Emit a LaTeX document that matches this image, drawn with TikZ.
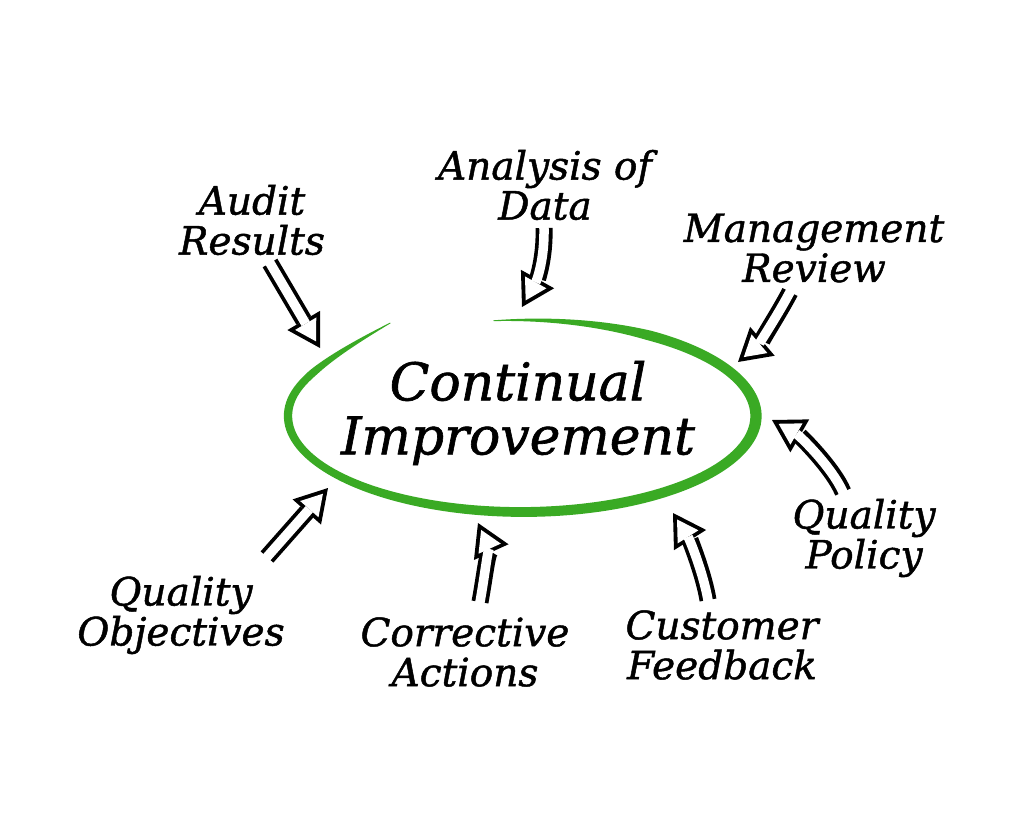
\documentclass[tikz,border=0pt]{standalone}
\usepackage{fontspec}
\setmainfont{DejaVu Serif}[ItalicFeatures={FakeBold=1.2}]
\usetikzlibrary{arrows.meta}
\definecolor{cigreen}{RGB}{58,170,36}
\newcommand{\harrow}[1]{\draw[arrblack] #1; \draw[arrwhite] #1;}
\begin{document}
\begin{tikzpicture}[x=1pt,y=-1pt,
  lbl/.style={font=\itshape\fontsize{39}{40}\selectfont, align=center, inner sep=0pt},
  mainlbl/.style={font=\itshape\fontsize{52}{54}\selectfont, align=center, inner sep=0pt},
  arrblack/.style={line width=17pt, black, -{Triangle[length=32pt,width=38pt,line width=0pt]}},
  arrwhite/.style={line width=9.5pt, white, shorten >=7.6pt, shorten <=-2pt, -{Triangle[length=20.6pt,width=24.5pt,line width=0pt]}},
  declare function={
    ew(\t)=(9+1.5*cos(\t))*min(1,(\t+97)/40,(234-\t)/28)+0.8;
    ery(\t)=19*(max(0,\t-190)/44)^2;
    erx(\t)=-10*(max(0,\t-190)/44)^2;
  }]
\useasboundingbox (0,0) rectangle (1023,835);
\fill[white] (0,0) rectangle (1023,835);

% green hand-drawn ellipse
\fill[cigreen] plot[variable=\t,domain=-97:234,samples=160,smooth]
  ({522+(234+erx(\t)+ew(\t)/2)*cos(\t)},{416+(96+ery(\t)+ew(\t)/2)*sin(\t)})
  -- plot[variable=\t,domain=234:-97,samples=160,smooth]
  ({522+(234+erx(\t)-ew(\t)/2)*cos(\t)},{416+(96+ery(\t)-ew(\t)/2)*sin(\t)}) -- cycle;

% texts
\node[mainlbl] (ci) at (518,413) {Continual\\Improvement};
\node[lbl] (audit) at (252,220) {Audit\\Results};
\node[lbl] (analysis) at (545,185) {Analysis of\\Data};
\node[lbl] (mgmt) at (814,248) {Management\\Review};
\node[lbl] (policy) at (864,538) {Quality\\Policy};
\node[lbl] (customer) at (722,645) {Customer\\Feedback};
\node[lbl] (corrective) at (465,652) {Corrective\\Actions};
\node[lbl] (objectives) at (181,615) {Quality\\Objectives};

% arrow end points
\coordinate (a1s) at (270,263); \coordinate (a1e) at (320,348);
\coordinate (a2s) at (544,228); \coordinate (a2e) at (522,307);
\coordinate (a3s) at (790,292); \coordinate (a3e) at (738,362);
\coordinate (a4s) at (843,492); \coordinate (a4e) at (772,420);
\coordinate (a5s) at (267,557); \coordinate (a5e) at (328,488);
\coordinate (a6s) at (708,600); \coordinate (a6e) at (673,513);
\coordinate (a7s) at (480,602); \coordinate (a7e) at (478,523);

% hollow arrows
\harrow{(a1s) -- (a1e)}
\harrow{(a2s) .. controls (545,258) and (537,280) .. (a2e)}
\harrow{(a3s) .. controls (778,315) and (758,345) .. (a3e)}
\harrow{(a4s) .. controls (833,468) and (800,436) .. (a4e)}
\harrow{(a5s) -- (a5e)}
\harrow{(a6s) .. controls (704,575) and (690,540) .. (a6e)}
\harrow{(a7s) .. controls (485,575) and (488,545) .. (a7e)}
\end{tikzpicture}
\end{document}
